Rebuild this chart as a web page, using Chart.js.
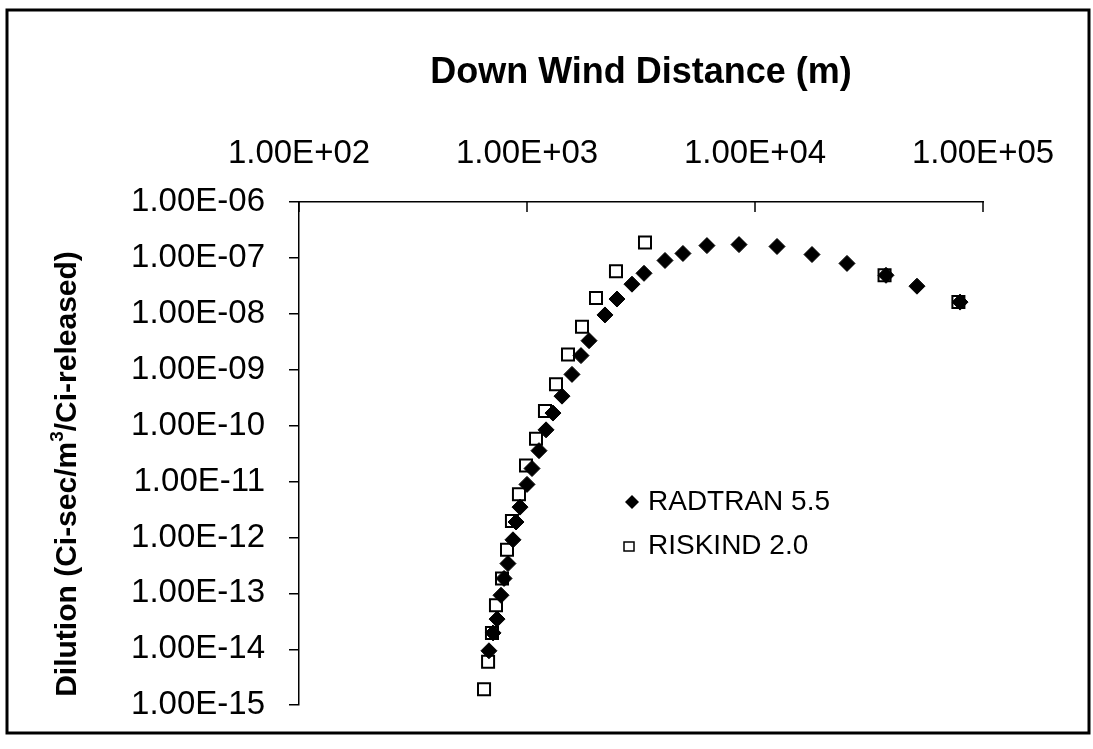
<!DOCTYPE html>
<html>
<head>
<meta charset="utf-8">
<title>Dilution vs Down Wind Distance</title>
<script src="https://cdn.jsdelivr.net/npm/chart.js@4.4.1/dist/chart.umd.min.js"></script>
<style>
  html, body { margin: 0; padding: 0; background: #fff; }
  canvas { display: block; }
</style>
</head>
<body>
<canvas id="dilution" width="1093" height="749"></canvas>
<script>
// down wind distance (m) and dilution
const radtranX = [681, 710, 739, 769, 793, 825, 868, 895, 932, 1000, 1052, 1129, 1212, 1300, 1424, 1575,
  1725, 1871, 2198, 2481, 2887, 3260, 4030, 4831, 6155, 8510, 12490, 17780, 25320, 37550, 51340, 79300];
const radtranY = [9.4e-15, 1.96e-14, 3.47e-14, 9.25e-14, 1.85e-13, 3.41e-13, 9.08e-13, 1.89e-12, 3.49e-12,
  8.9e-12, 1.71e-11, 3.57e-11, 8.41e-11, 1.68e-10, 3.37e-10, 8.26e-10, 1.79e-9, 3.31e-9, 9.55e-9, 1.84e-8,
  3.39e-8, 5.3e-8, 9.0e-8, 1.2e-7, 1.66e-7, 1.73e-7, 1.6e-7, 1.15e-7, 7.97e-8, 4.89e-8, 3.12e-8, 1.62e-8];

const riskindX = [648, 675, 702, 731, 777, 817, 859, 922, 990, 1095, 1199, 1340, 1513, 1743, 2007, 2456,
  3292, 37000, 78000];
const riskindY = [1.92e-15, 6.01e-15, 1.96e-14, 6.15e-14, 1.85e-13, 6.04e-13, 1.97e-12, 5.93e-12, 1.94e-11,
  5.83e-11, 1.83e-10, 5.5e-10, 1.87e-9, 5.86e-9, 1.91e-8, 5.75e-8, 1.88e-7, 4.9e-8, 1.62e-8];

const seriesNames = ["RADTRAN 5.5", "RISKIND 2.0"];
const xTicks = [1e2, 1e3, 1e4, 1e5];
const yTicks = [1e-15, 1e-14, 1e-13, 1e-12, 1e-11, 1e-10, 1e-9, 1e-8, 1e-7, 1e-6];

const FONT = '"Liberation Sans", Arial, sans-serif';

// Excel style 1.00E+02
function sci(v) {
  const e = Math.round(Math.log10(v));
  const m = (v / Math.pow(10, e)).toFixed(2);
  return m + "E" + (e < 0 ? "-" : "+") + String(Math.abs(e)).padStart(2, "0");
}

function toPoints(xs, ys) {
  return xs.map((x, i) => ({ x: x, y: ys[i] }));
}

// inward ticks on top axis, y title with superscript, legend, outer frame
const extras = {
  id: "extras",
  afterDraw(chart) {
    const ctx = chart.ctx;
    const xs = chart.scales.x;
    const area = chart.chartArea;
    ctx.save();

    ctx.strokeStyle = "#000";
    ctx.lineWidth = 1.5;
    xs.ticks.forEach((t) => {
      const px = xs.getPixelForValue(t.value);
      ctx.beginPath();
      ctx.moveTo(px, area.top);
      ctx.lineTo(px, area.top + 10);
      ctx.stroke();
    });

    // y title
    ctx.save();
    ctx.translate(68, 474);
    ctx.rotate(-Math.PI / 2);
    ctx.fillStyle = "#000";
    ctx.textBaseline = "middle";
    ctx.textAlign = "left";
    const big = "bold 30px " + FONT;
    const small = "bold 19px " + FONT;
    const p1 = "Dilution (Ci-sec/m", p2 = "3", p3 = "/Ci-released)";
    ctx.font = big;
    const w1 = ctx.measureText(p1).width, w3 = ctx.measureText(p3).width;
    ctx.font = small;
    const w2 = ctx.measureText(p2).width;
    let sx = -(w1 + w2 + w3) / 2;
    ctx.font = big;
    ctx.fillText(p1, sx, 0);
    ctx.font = small;
    ctx.fillText(p2, sx + w1, -10);
    ctx.font = big;
    ctx.fillText(p3, sx + w1 + w2, 0);
    ctx.restore();

    // legend
    ctx.font = "28px " + FONT;
    ctx.textBaseline = "middle";
    ctx.textAlign = "left";
    ctx.fillStyle = "#000";
    ctx.beginPath();
    ctx.moveTo(632, 495); ctx.lineTo(639, 502); ctx.lineTo(632, 509); ctx.lineTo(625, 502);
    ctx.closePath();
    ctx.fill();
    ctx.fillText(seriesNames[0], 648, 502);
    ctx.lineWidth = 1.5;
    ctx.strokeRect(624, 542, 10, 9);
    ctx.fillText(seriesNames[1], 648, 546);

    // frame round the picture
    ctx.lineWidth = 3;
    ctx.strokeRect(7, 10, 1082, 723);
    ctx.restore();
  }
};

new Chart(document.getElementById("dilution"), {
  type: "scatter",
  data: {
    datasets: [
      {
        label: seriesNames[0],
        data: toPoints(radtranX, radtranY),
        pointStyle: "rectRot",
        pointRadius: 8,
        backgroundColor: "#000",
        borderColor: "#000",
        borderWidth: 1
      },
      {
        label: seriesNames[1],
        data: toPoints(riskindX, riskindY),
        pointStyle: "rect",
        pointRadius: 8.5,
        backgroundColor: "rgba(0,0,0,0)",
        borderColor: "#000",
        borderWidth: 2
      }
    ]
  },
  options: {
    responsive: false,
    animation: false,
    devicePixelRatio: 1,
    layout: { padding: { left: 44, top: 47, right: 110, bottom: 39 } },
    plugins: {
      legend: { display: false },
      tooltip: { enabled: false }
    },
    scales: {
      x: {
        type: "logarithmic",
        position: "top",
        min: 100,
        max: 100000,
        afterBuildTicks: (s) => { s.ticks = xTicks.map((v) => ({ value: v })); },
        afterFit: (s) => { s.height = 155; },
        ticks: {
          callback: (v) => sci(v),
          font: { family: FONT, size: 33 },
          color: "#000",
          padding: 28,
          maxRotation: 0,
          autoSkip: false
        },
        grid: { drawOnChartArea: false, drawTicks: false },
        border: { color: "#000", width: 1.5 },
        title: {
          display: true,
          text: "Down Wind Distance (m)",
          font: { family: FONT, size: 36, weight: "bold" },
          color: "#000",
          padding: { top: 4, bottom: 0 }
        }
      },
      y: {
        type: "logarithmic",
        min: 1e-15,
        max: 1e-6,
        afterBuildTicks: (s) => { s.ticks = yTicks.map((v) => ({ value: v })); },
        afterFit: (s) => { s.width = 255; },
        ticks: {
          callback: (v) => sci(v),
          font: { family: FONT, size: 33 },
          color: "#000",
          padding: 24,
          autoSkip: false
        },
        grid: { drawOnChartArea: false, drawTicks: true, tickLength: 10, color: "#000", lineWidth: 1.5 },
        border: { color: "#000", width: 1.5 }
      }
    }
  },
  plugins: [extras]
});
</script>
</body>
</html>
